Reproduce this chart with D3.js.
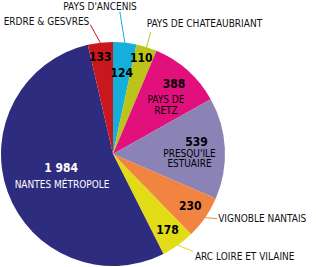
<!DOCTYPE html>
<html>
<head>
<meta charset="utf-8">
<script src="https://cdn.jsdelivr.net/npm/d3@7"></script>
<style>
  body { margin: 0; background: #fff; }
  text { font-family: "DejaVu Sans Condensed", "DejaVu Sans", sans-serif; font-stretch: condensed; }
</style>
</head>
<body>
<svg id="chart" width="316" height="267"></svg>
<script>
// slices, clockwise from 12 o'clock
var categories = ["PAYS D'ANCENIS", "PAYS DE CHATEAUBRIANT", "PAYS DE\nRETZ", "PRESQU'ILE\nESTUAIRE",
  "VIGNOBLE NANTAIS", "ARC LOIRE ET VILAINE", "NANTES MÉTROPOLE", "ERDRE & GESVRES"];
var values = [124, 110, 388, 539, 230, 178, 1984, 133];
var colors = ["#14afdb", "#bcc41a", "#e2107c", "#8b83b5", "#f08440", "#e2dc16", "#2e2c7e", "#c8181e"];

// label layout: r = radius of the value block, da = angle tweak (deg),
// inside names get gap (number -> name baseline) and numDx; outside names get a leader
var layout = [
  {r: 82, da: 0, out: {lead: [-5, -31], anchor: "end", tdx: 17, tdy: -2}},
  {r: 100, da: -1, out: {lead: [4, -15], anchor: "start", tdx: -4, tdy: -5}},
  {r: 78, da: 1, gap: 15, lh: 11, numDx: 8},
  {r: 76.5, da: 1.8, gap: 11, lh: 10.5, numDx: 7},
  {r: 93, da: -0.8, out: {lead: [12, 1], anchor: "start", tdx: 1, tdy: 3}},
  {r: 93, da: -0.5, out: {lead: [15, 6], anchor: "start", tdx: 2, tdy: 9}},
  {r: 55.3, da: -3, gap: 16, lh: 11, numDx: -1, light: true},
  {r: 98, da: -1, out: {lead: [-10, -18], anchor: "end", tdx: -1, tdy: 0}}
];

var svg = d3.select("#chart"),
  cx = 113, cy = 154, R = 112,
  numCap = 8.5;

var fr = d3.formatLocale({decimal: ",", thousands: "\u00a0", grouping: [3], currency: ["", " €"]});
var fmt = fr.format(",d");

var pie = d3.pie().sort(null).value(function(d) { return d; });
var arc = d3.arc().innerRadius(0).outerRadius(R);
var arcs = pie(values);

var g = svg.append("g").attr("transform", "translate(" + cx + "," + cy + ")");

g.selectAll("path.slice")
  .data(arcs)
  .enter().append("path")
  .attr("class", "slice")
  .attr("d", arc)
  .style("fill", function(d, i) { return colors[i]; });

function polar(a, r) {
  return [Math.sin(a) * r, -Math.cos(a) * r];
}

arcs.forEach(function(d, i) {
  var L = layout[i],
    mid = (d.startAngle + d.endAngle) / 2,
    p = polar(mid + L.da * Math.PI / 180, L.r),
    lines = L.out ? [] : categories[i].split("\n"),
    fill = L.light ? "#fff" : "#000";

  var extent = lines.length ? L.gap + (lines.length - 1) * L.lh : 0;
  var y0 = p[1] - extent / 2 + numCap / 2;

  g.append("text")
    .attr("x", p[0] + (L.numDx || 0))
    .attr("y", y0)
    .attr("text-anchor", "middle")
    .style("font-size", "12px")
    .style("font-weight", "bold")
    .style("fill", fill)
    .text(fmt(values[i]));

  lines.forEach(function(t, j) {
    g.append("text")
      .attr("x", p[0])
      .attr("y", y0 + L.gap + j * L.lh)
      .attr("text-anchor", "middle")
      .style("font-size", "10px")
      .style("fill", fill)
      .text(t);
  });

  if (L.out) {
    var e = polar(mid, R),
      end = [e[0] + L.out.lead[0], e[1] + L.out.lead[1]];
    g.append("line")
      .attr("x1", e[0]).attr("y1", e[1])
      .attr("x2", end[0]).attr("y2", end[1])
      .style("stroke", colors[i])
      .style("stroke-width", 1);
    g.append("text")
      .attr("x", end[0] + L.out.tdx)
      .attr("y", end[1] + L.out.tdy)
      .attr("text-anchor", L.out.anchor)
      .style("font-size", "10px")
      .style("fill", "#111")
      .text(categories[i]);
  }
});
</script>
</body>
</html>
